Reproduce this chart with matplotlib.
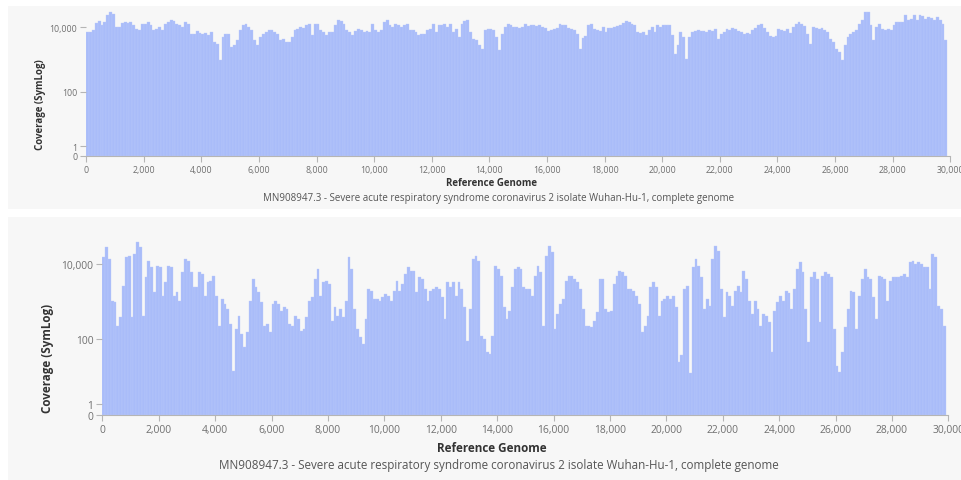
import numpy as np
import matplotlib
matplotlib.use("Agg")
import matplotlib.pyplot as plt
from matplotlib.patches import Rectangle
from matplotlib.ticker import FixedLocator, FuncFormatter

plt.rcParams['font.family'] = ['Open Sans', 'DejaVu Sans']

# ---------------- data ----------------
genome_length = 29903
bin_size = 100
bin_starts = np.arange(0, genome_length - bin_size, bin_size)   # 299 bins, last one runs to genome end

coverage_top = [
    7160, 7160, 8460, 13640, 15740, 11540, 14650, 23600, 29950, 26600,
    10240, 10240, 13640, 14650, 13640, 14650, 11540, 9090, 8070, 13000,
    13000, 14650, 11540, 8070, 9090, 10240, 8070, 13000, 14650, 17300,
    15740, 13000, 11540, 10240, 14650, 13000, 6360, 6360, 7690, 6670,
    6360, 6670, 5650, 7160, 3500, 3110, 943, 5010, 6360, 6360,
    2450, 2760, 3950, 8070, 11540, 13000, 10240, 8070, 3950, 2760,
    5010, 6360, 7160, 8070, 8070, 7160, 6360, 3950, 4450, 3500,
    3500, 5010, 8070, 9090, 10240, 9760, 11540, 13000, 5650, 13000,
    13000, 8070, 7160, 5650, 7160, 7160, 11540, 17300, 15740, 13000,
    8070, 7160, 5650, 7690, 9090, 8070, 7160, 7690, 7160, 13000,
    8070, 7160, 8070, 14650, 16500, 11540, 10240, 13000, 11540, 10240,
    11540, 13000, 8070, 8070, 7160, 5650, 6060, 6360, 8070, 9090,
    13000, 7160, 11540, 11540, 13000, 10240, 13000, 7160, 9090, 5010,
    13000, 15740, 16500, 7160, 4450, 3950, 2760, 2170, 8070, 9090,
    9090, 8070, 5010, 1930, 6360, 10240, 13000, 11540, 10240, 10240,
    9760, 10240, 13000, 10740, 11540, 11540, 10740, 11540, 10240, 9760,
    7690, 8460, 9090, 9760, 13000, 11540, 11540, 9760, 9090, 8460,
    6360, 2170, 4780, 5250, 11540, 12390, 9090, 8070, 7690, 10240,
    7160, 9760, 9760, 10240, 10740, 11540, 13640, 15740, 14650, 13000,
    11540, 7160, 6670, 7160, 5650, 8070, 10240, 7160, 11540, 10240,
    11540, 11540, 11540, 5650, 1520, 2760, 7160, 5010, 1060, 5010,
    7160, 7690, 8070, 7690, 7690, 7160, 8070, 7690, 9090, 4450,
    6360, 7160, 9090, 8070, 9760, 9090, 7690, 7160, 6360, 6670,
    6360, 8070, 9760, 11540, 13000, 9760, 7160, 5250, 5010, 5250,
    9090, 8460, 7690, 9090, 6670, 10240, 12390, 14650, 13000, 10740,
    6360, 3110, 10240, 9760, 9090, 9760, 8070, 7160, 4450, 3500,
    2170, 1710, 943, 2760, 5010, 6360, 7160, 8070, 13000, 16500,
    29950, 29950, 11540, 3950, 10240, 12390, 9090, 8070, 9090, 8070,
    11540, 14650, 14650, 14650, 23600, 16500, 18600, 23600, 16500, 23600,
    21980, 18600, 20950, 20100, 16500, 20950, 16500, 13000, 3950,
]

coverage_bottom = [
    14700, 27000, 13300, 1050, 950, 230, 381, 2620, 14700, 16290,
    381, 18000, 36650, 27000, 422, 4350, 12000, 8000, 1750, 8860,
    8000, 1430, 3210, 8860, 8000, 1430, 1750, 1050, 5910, 13300,
    12000, 5910, 2370, 2370, 5910, 5340, 1430, 3210, 3560, 4820,
    1430, 230, 1165, 860, 634, 254, 14, 187, 422, 138,
    61, 153, 1050, 3940, 2370, 1750, 950, 230, 254, 153,
    860, 1050, 860, 572, 700, 634, 254, 230, 422, 345,
    169, 187, 381, 1050, 1290, 3940, 7240, 1430, 3210, 3560,
    2900, 311, 700, 422, 634, 381, 1050, 14700, 7240, 634,
    187, 113, 75, 345, 2140, 1930, 1165, 1165, 1050, 1290,
    1580, 1430, 1050, 1930, 3560, 1930, 2900, 5340, 8000, 6540,
    6540, 1750, 4350, 3940, 2140, 1050, 1930, 2140, 2370, 2140,
    1290, 345, 3210, 2370, 3210, 1430, 3210, 2140, 700, 92,
    634, 13300, 16290, 12000, 125, 102, 45, 41, 125, 8860,
    7240, 4820, 700, 345, 572, 2370, 7240, 8000, 7240, 2370,
    2200, 2140, 1430, 4820, 8860, 5910, 230, 16290, 29920, 19950,
    187, 467, 860, 1165, 3560, 4820, 4820, 3940, 3210, 2140,
    634, 230, 230, 207, 311, 517, 3940, 3940, 634, 517,
    572, 2900, 4820, 6540, 5910, 4820, 2140, 2140, 1930, 1430,
    860, 153, 230, 422, 2370, 3210, 2370, 422, 1050, 1165,
    1430, 1165, 1430, 700, 24, 37, 2140, 2620, 12, 8000,
    13300, 8860, 4350, 634, 1165, 776, 13300, 29920, 22070, 2140,
    381, 1750, 1430, 776, 1930, 2620, 1750, 6540, 3940, 1050,
    467, 1050, 634, 230, 467, 405, 281, 45, 572, 950,
    1430, 1050, 1930, 1680, 634, 2140, 7240, 10860, 5910, 634,
    83, 4350, 5910, 3940, 281, 4820, 6150, 5340, 4350, 187,
    19, 13, 45, 207, 634, 1930, 1750, 187, 1430, 3940,
    7240, 4350, 3940, 1290, 345, 4820, 4350, 3940, 1050, 3560,
    4350, 4350, 4350, 4820, 5340, 4350, 10860, 12000, 9800, 10860,
    9800, 8000, 8000, 2140, 18000, 14700, 776, 634, 230,
]

x_ticks = list(range(0, 30001, 2000))
y_ticks = [0, 1, 100, 10000]
x_title = "Reference Genome"
y_title = "Coverage (SymLog)"
subtitle = "MN908947.3 - Severe acute respiratory syndrome coronavirus 2 isolate Wuhan-Hu-1, complete genome"

# ---------------- style ----------------
W, H = 961, 481
BAR = "#a9bcf9"
PANEL_BG = "#f7f7f7"
TICK_C = "#6f6f6f"
AXIS_C = "#b5b5b5"

fig = plt.figure(figsize=(W / 100, H / 100), dpi=100)
fig.patch.set_facecolor("white")


def fpx(x0, y0, x1, y1):
    """pixel box (top-left origin) -> figure fraction [l, b, w, h]"""
    return [x0 / W, 1 - y1 / H, (x1 - x0) / W, (y1 - y0) / H]


def fwd(v):
    v = np.asarray(v, dtype=float)
    return np.sign(v) * np.log1p(np.abs(v))


def inv(u):
    u = np.asarray(u, dtype=float)
    return np.sign(u) * np.expm1(np.abs(u))


# panel backgrounds
fig.patches.append(Rectangle((8 / W, 1 - 210 / H), (W - 8) / W, 203 / H,
                             transform=fig.transFigure, facecolor=PANEL_BG,
                             edgecolor="none", zorder=-10))
fig.patches.append(Rectangle((8 / W, 0), (W - 8) / W, 1 - 218 / H,
                             transform=fig.transFigure, facecolor=PANEL_BG,
                             edgecolor="none", zorder=-10))

widths = np.diff(np.append(bin_starts, genome_length))


def panel(box, values, px_per_unit, tick_fs, lab_fs, ylab_xy, xlab_xy, sub_xy):
    x0, y0, x1, y1 = box
    ax = fig.add_axes(fpx(*box))
    ax.set_facecolor("none")
    ax.bar(bin_starts, values, width=widths, align="edge", color=BAR,
           edgecolor="#bccbfb", linewidth=0.25)
    ax.set_yscale("function", functions=(fwd, inv))
    ax.set_xlim(0, 30000)
    ax.set_ylim(0, float(inv((y1 - y0) / px_per_unit)))
    for s in ["top", "right", "left"]:
        ax.spines[s].set_visible(False)
    ax.spines["bottom"].set_color(AXIS_C)
    ax.spines["bottom"].set_linewidth(0.8)
    ax.xaxis.set_major_locator(FixedLocator(x_ticks))
    ax.xaxis.set_major_formatter(FuncFormatter(lambda v, p: f"{int(v):,}"))
    ax.yaxis.set_major_locator(FixedLocator(y_ticks))
    ax.yaxis.set_major_formatter(FuncFormatter(lambda v, p: f"{int(round(v)):,}"))
    ax.yaxis.set_minor_locator(FixedLocator([]))
    ax.xaxis.set_minor_locator(FixedLocator([]))
    ax.tick_params(axis="both", colors=AXIS_C, labelcolor=TICK_C,
                   labelsize=tick_fs, length=4, width=0.8, pad=2.5)
    fig.text(ylab_xy[0] / W, 1 - ylab_xy[1] / H, y_title, rotation=90,
             ha="center", va="center", fontsize=lab_fs, fontweight="bold",
             color="#333333")
    fig.text(xlab_xy[0] / W, 1 - xlab_xy[1] / H, x_title, ha="center",
             va="center", fontsize=lab_fs, fontweight="bold", color="#333333")
    fig.text(sub_xy[0] / W, 1 - sub_xy[1] / H, subtitle, ha="center",
             va="center", fontsize=lab_fs, color="#555555")
    return ax


panel((86.2, 10, 950.2, 157), coverage_top, 13.97, 6.3, 7.0,
      (40, 105), (492, 184), (499, 198))
panel((102.3, 232, 948.3, 416), coverage_bottom, 16.43, 7.4, 8.4,
      (47, 358), (492, 449), (499, 466))

fig.savefig("out.png", dpi=100, facecolor="white")
